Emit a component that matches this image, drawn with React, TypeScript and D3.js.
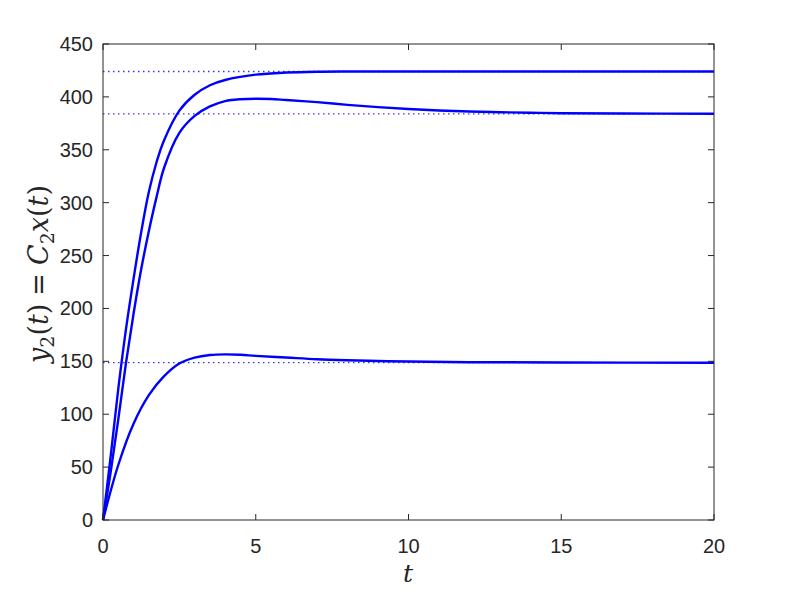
import React from "react";
import * as d3 from "d3";

const tA = [0, 0.25, 0.5, 0.75, 1, 1.25, 1.5, 1.75, 2, 2.5, 3, 3.5, 4, 5, 6, 7, 8, 10, 15, 20];
const vA = [0, 60, 124, 180, 228, 272, 310, 338, 359, 387, 402, 411, 416, 421, 423, 423.8, 424, 424, 424, 424];

const tB = [0, 0.25, 0.5, 0.75, 1, 1.25, 1.5, 1.75, 2, 2.5, 3, 3.5, 4, 4.5, 5, 5.5, 6, 7, 8, 9, 10, 11, 12, 13, 14, 15, 17, 20];
const vB = [0, 45, 95, 148, 195, 237, 273, 305, 333, 366, 382, 391, 396, 397.8, 398.3, 398, 397, 395, 392.5, 390.3, 388.5, 387.2, 386.2, 385.5, 385, 384.6, 384.3, 384.1];

const tC = [0, 0.5, 1, 1.5, 2, 2.5, 3, 3.5, 4, 4.5, 5, 6, 7, 8, 9, 10, 12, 15, 20];
const vC = [0, 52, 91, 118, 136, 148, 153.5, 156, 156.6, 156.2, 155.2, 153.6, 152, 151, 150.3, 149.8, 149.2, 148.9, 148.7];

const steadyStates = [424, 384, 148.7];

const xTicks = [0, 5, 10, 15, 20];
const yTicks = [0, 50, 100, 150, 200, 250, 300, 350, 400, 450];

const W = 789, H = 592;
const L = 103, T = 44, R = 714, B = 520;
const axisColor = "#262626";

export default function App() {
  const x = d3.scaleLinear().domain([0, 20]).range([L, R]);
  const y = d3.scaleLinear().domain([0, 450]).range([B, T]);
  const line = d3.line<[number, number]>().x(d => x(d[0])).y(d => y(d[1])).curve(d3.curveCatmullRom.alpha(0.5));
  const series = [
    tA.map((t, i) => [t, vA[i]] as [number, number]),
    tB.map((t, i) => [t, vB[i]] as [number, number]),
    tC.map((t, i) => [t, vC[i]] as [number, number]),
  ];
  const tick = 6;
  const font = "'Liberation Sans', Arial, Helvetica, sans-serif";
  const serif = "'DejaVu Serif', 'Liberation Serif', serif";
  return (
    <svg width={W} height={H} style={{ position: "absolute", left: 0, top: 0, background: "#fff" }}>
      <rect x={0} y={0} width={W} height={H} fill="#fff" />
      {steadyStates.map((v, i) => (
        <line key={i} x1={x(0)} x2={x(20)} y1={y(v)} y2={y(v)} stroke="#0000ff" strokeOpacity={0.8} strokeWidth={1.3} strokeDasharray="1.5,3.5" />
      ))}
      {series.map((s, i) => (
        <path key={i} d={line(s) || ""} fill="none" stroke="#0000ff" strokeWidth={2.4} />
      ))}
      <rect x={L} y={T} width={R - L} height={B - T} fill="none" stroke={axisColor} strokeWidth={1} />
      {xTicks.map(v => (
        <g key={"x" + v}>
          <line x1={x(v)} x2={x(v)} y1={B} y2={B - tick} stroke={axisColor} />
          <line x1={x(v)} x2={x(v)} y1={T} y2={T + tick} stroke={axisColor} />
          <text x={x(v)} y={553} textAnchor="middle" fontFamily={font} fontSize={20} fill={axisColor}>{v}</text>
        </g>
      ))}
      {yTicks.map(v => (
        <g key={"y" + v}>
          <line x1={L} x2={L + tick} y1={y(v)} y2={y(v)} stroke={axisColor} />
          <line x1={R} x2={R - tick} y1={y(v)} y2={y(v)} stroke={axisColor} />
          <text x={93} y={y(v)} dy="0.35em" textAnchor="end" fontFamily={font} fontSize={20} fill={axisColor}>{v}</text>
        </g>
      ))}
      <text x={408} y={582} textAnchor="middle" fontFamily={serif} fontStyle="italic" fontSize={25} fill={axisColor}>t</text>
      <text transform={`translate(48, 274) rotate(-90)`} textAnchor="middle" fontFamily={serif} fontSize={27} fill={axisColor}>
        <tspan fontStyle="italic">y</tspan>
        <tspan fontSize={19} dy={6}>2</tspan>
        <tspan dy={-6}>(</tspan>
        <tspan fontStyle="italic">t</tspan>
        <tspan>)</tspan>
        <tspan dx={8}>=</tspan>
        <tspan dx={8} fontStyle="italic">C</tspan>
        <tspan fontSize={19} dy={6}>2</tspan>
        <tspan fontStyle="italic" dy={-6}>x</tspan>
        <tspan>(</tspan>
        <tspan fontStyle="italic">t</tspan>
        <tspan>)</tspan>
      </text>
    </svg>
  );
}
